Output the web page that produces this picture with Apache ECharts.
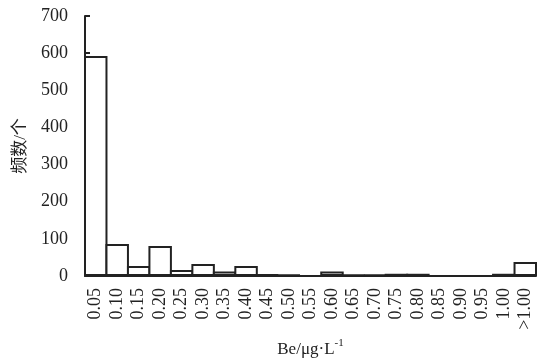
<!DOCTYPE html>
<html>
<head>
<meta charset="utf-8">
<script src="https://cdn.jsdelivr.net/npm/echarts@6/dist/echarts.min.js"></script>
<style>
  html, body { margin: 0; padding: 0; background: #fff; }
  #chart { width: 549px; height: 358px; }
</style>
</head>
<body>
<div id="chart"></div>
<script>
var categories = ['0.05', '0.10', '0.15', '0.20', '0.25', '0.30', '0.35', '0.40', '0.45', '0.50',
  '0.55', '0.60', '0.65', '0.70', '0.75', '0.80', '0.85', '0.90', '0.95', '1.00', '>1.00'];
var counts = [592, 86, 27, 81, 16, 32, 12, 27, 5, 4, 0, 12, 4, 4, 6, 6, 0, 0, 0, 6, 38];
var yTicks = { min: 0, max: 700, interval: 100 };

var font = "'Liberation Serif', 'Noto Sans CJK SC', serif";
var ink = '#222';
var gridLeft = 85, gridRight = 13;
// histogram: each bar fills its whole category band
var bandWidth = (549 - gridLeft - gridRight) / categories.length;

var chartDom = document.getElementById('chart');
var myChart = echarts.init(chartDom);
var option = {
  animation: false,
  grid: { left: gridLeft, right: gridRight, top: 16, bottom: 82, containLabel: false, outerBoundsMode: 'none' },
  xAxis: {
    type: 'category',
    data: categories,
    name: '{a|Be/μg·L}{b|-1}',
    nameLocation: 'middle',
    nameGap: 61,
    nameTextStyle: {
      rich: {
        a: { fontFamily: font, fontSize: 17, color: ink, verticalAlign: 'bottom' },
        b: { fontFamily: font, fontSize: 11, color: ink, verticalAlign: 'top', padding: [0, 0, 9, 0] }
      }
    },
    axisLine: { lineStyle: { color: ink, width: 2 } },
    axisTick: { show: false },
    axisLabel: { rotate: 90, margin: 12, fontFamily: font, fontSize: 18, color: ink, interval: 0 }
  },
  yAxis: {
    type: 'value',
    min: yTicks.min,
    max: yTicks.max,
    interval: yTicks.interval,
    name: '频数/个',
    nameLocation: 'middle',
    nameGap: 56,
    nameTextStyle: { fontFamily: font, fontSize: 17, color: ink },
    axisLine: { show: true, lineStyle: { color: ink, width: 2 } },
    axisTick: { show: true, inside: true, length: 5, lineStyle: { color: ink, width: 2 } },
    splitLine: { show: false },
    axisLabel: { margin: 17, fontFamily: font, fontSize: 18, color: ink }
  },
  series: [
    {
      type: 'bar',
      data: counts,
      barWidth: bandWidth + 2,
      barGap: '0%',
      itemStyle: { color: '#fff', borderColor: ink, borderWidth: 2 }
    }
  ]
};
myChart.setOption(option);
</script>
</body>
</html>
